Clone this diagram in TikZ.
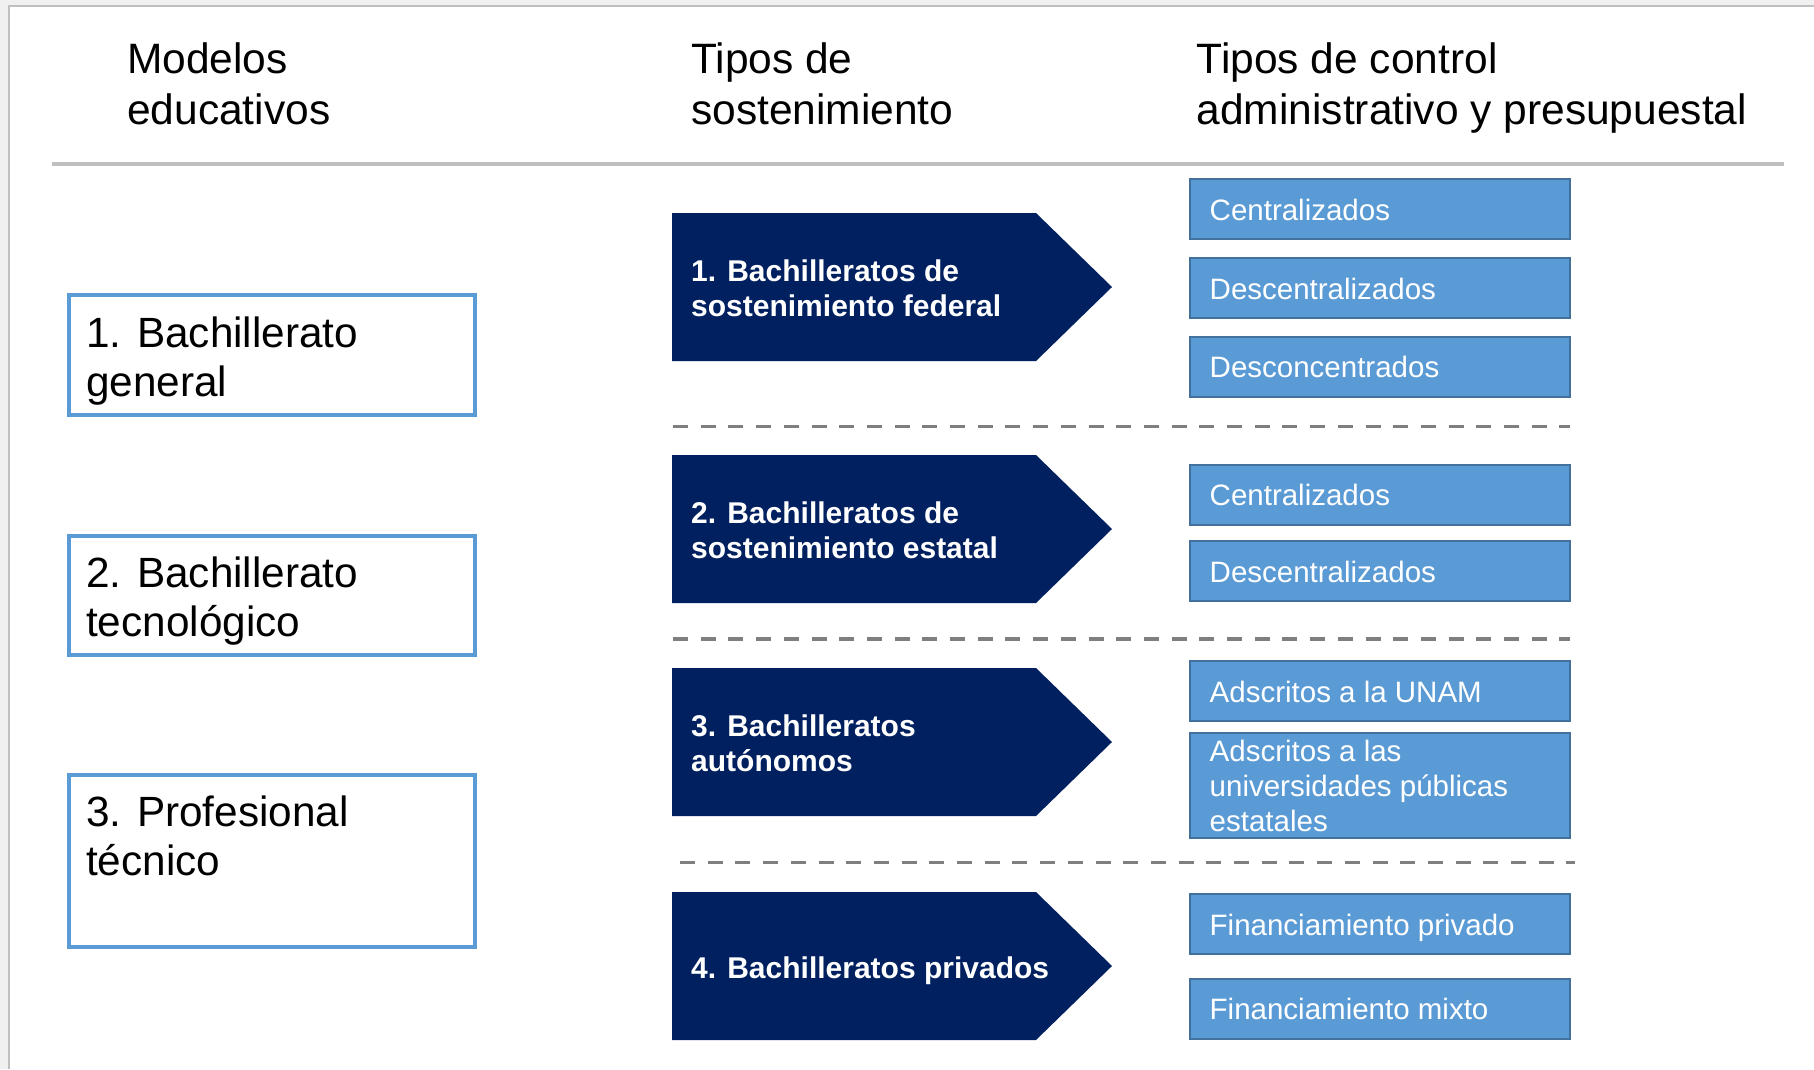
\documentclass[tikz,border=0pt]{standalone}
\usepackage{fontspec}
\setmainfont{Liberation Sans}

\definecolor{navy}{HTML}{002060}
\definecolor{boxblue}{HTML}{5B9BD5}
\definecolor{boxedge}{HTML}{41719C}
\definecolor{rulegray}{HTML}{BFBFBF}
\definecolor{dashgray}{HTML}{7F7F7F}
\definecolor{pagegray}{HTML}{F0F0F0}

\begin{document}
\begin{tikzpicture}[x=1pt,y=-1pt,
  head/.style={anchor=base west,inner sep=0pt,align=left,font=\fontsize{42.5}{51}\selectfont},
  model/.style={draw=boxblue,line width=4pt,minimum width=406pt,anchor=north west,inner sep=0pt},
  modeltext/.style={anchor=base west,inner sep=0pt,align=left,font=\fontsize{42.3}{49}\selectfont},
  sost/.style={anchor=base west,inner sep=0pt,align=left,text=white,font=\bfseries\fontsize{30}{35}\selectfont},
  ctrl/.style={draw=boxedge,fill=boxblue,line width=2pt,minimum width=380pt,minimum height=60pt,anchor=north west,inner sep=0pt},
  ctrltext/.style={anchor=base west,inner sep=0pt,align=left,text=white,font=\fontsize{29.5}{35}\selectfont},
  sep/.style={dashgray,line width=3.5pt,dash pattern=on 15pt off 12.7pt}]
\useasboundingbox (0,0) rectangle (1814,1069);
\fill[pagegray] (0,0) rectangle (1814,1069);
\fill[white] (9,6) rectangle (1814,1069);
\draw[rulegray,line width=2pt] (8.5,1069) -- (8.5,5.5) -- (1814,5.5);

% base of a two-line node = its last line
\node[head] (hmod) at (127,124) {Modelos\\educativos};
\node[head] (hsost) at (691,124) {Tipos de\\sostenimiento};
\node[head] (hctrl) at (1196.5,124) {Tipos de control\\administrativo y presupuestal};
\draw[rulegray,line width=4pt] (52,164) -- (1784,164);

\foreach \t/\h/\txt [count=\i] in {293.3/119.4/{1. Bachillerato\\general},
    533.5/119.5/{2. Bachillerato\\tecnológico}, 772.5/172.5/{3. Profesional\\técnico}}{
  \node[model,minimum height=\h pt] (m\i) at (67,\t) {};
  \node[modeltext] (m\i t) at (86,\t+103) {\txt};
}

\foreach \m/\b/\txt [count=\i] in {287/29/{1. Bachilleratos de\\sostenimiento federal},
    529/29/{2. Bachilleratos de\\sostenimiento estatal},
    742/29/{3. Bachilleratos\\autónomos}, 966/12/{4. Bachilleratos privados}}{
  \fill[navy] (672,\m-74) -- (1036,\m-74) -- (1112,\m) -- (1036,\m+74) -- (672,\m+74) -- cycle;
  \node[sost] (s\i) at (691,\m+\b) {\txt};
}

\draw[sep] (673,426.5) -- (1570,426.5);
\draw[sep] (673,639) -- (1570,639);
\draw[sep] (680,862.5) -- (1575,862.5);

\foreach \t/\txt [count=\i] in {178/Centralizados, 257/Descentralizados, 335.7/Desconcentrados,
    463.5/Centralizados, 540/Descentralizados, 660/Adscritos a la UNAM,
    893/Financiamiento privado, 977.7/Financiamiento mixto}{
  \node[ctrl] (c\i) at (1189,\t) {};
  \node[ctrltext] (c\i t) at (1209.5,\t+42) {\txt};
}
\node[ctrl,minimum height=105.3pt] (c9) at (1189,731.7) {};
\node[ctrltext] (c9t) at (1209.5,831) {Adscritos a las\\universidades públicas\\estatales};
\end{tikzpicture}
\end{document}
